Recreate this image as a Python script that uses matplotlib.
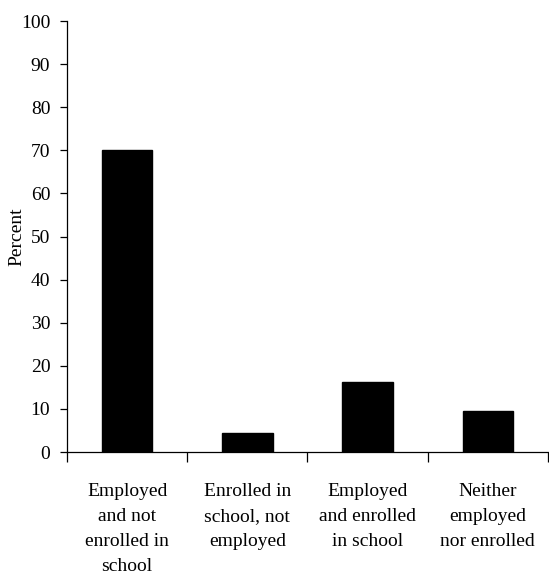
import matplotlib
matplotlib.use("Agg")
import matplotlib.pyplot as plt
import numpy as np

categories = ["Employed\nand not\nenrolled in\nschool",
              "Enrolled in\nschool, not\nemployed",
              "Employed\nand enrolled\nin school",
              "Neither\nemployed\nnor enrolled"]
percent = [70, 4.3, 16.2, 9.5]
yticks = list(range(0, 101, 10))

plt.rcParams['font.family'] = ['Liberation Serif', 'DejaVu Serif']

fig = plt.figure(figsize=(5.49, 5.77), dpi=100)
ax = fig.add_axes([0.122, 0.2166, 0.876, 0.747])

x = np.arange(len(categories))
ax.bar(x, percent, width=0.42, color='black', edgecolor='black')

ax.set_xlim(-0.5, len(categories) - 0.5)
ax.set_ylim(0, 100)
ax.set_yticks(yticks)
ax.tick_params(axis='y', labelsize=14, length=5, width=0.9, direction='out', pad=7)

# category boundaries as ticks, labels at centres
ax.set_xticks(np.arange(len(categories) + 1) - 0.5)
ax.set_xticklabels([])
ax.set_xticks(x, minor=True)
ax.set_xticklabels(categories, minor=True, fontsize=14, linespacing=1.62)
ax.tick_params(axis='x', which='major', length=7, width=0.9, direction='out')
ax.tick_params(axis='x', which='minor', length=0, pad=22)

for s in ['top', 'right']:
    ax.spines[s].set_visible(False)
for s in ['left', 'bottom']:
    ax.spines[s].set_linewidth(0.9)

ax.set_ylabel('Percent', fontsize=14)
ax.yaxis.set_label_coords(-0.087, 0.5)

fig.savefig('out.png', dpi=100)
